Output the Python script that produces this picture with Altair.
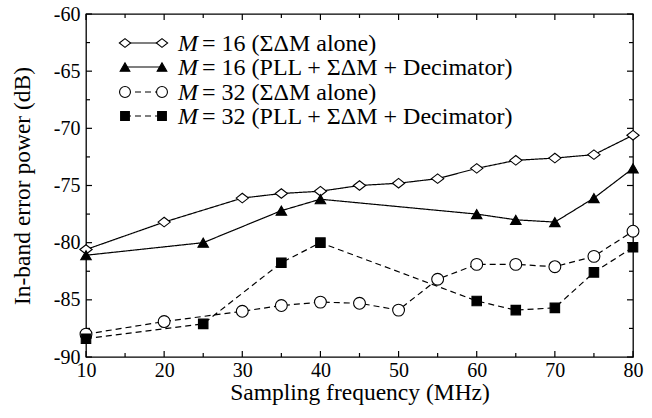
import altair as alt
import pandas as pd

# ---------------- data ----------------
freq_a = [10, 20, 30, 35, 40, 45, 50, 55, 60, 65, 70, 75, 80]
m16_alone = [-80.6, -78.2, -76.1, -75.7, -75.5, -75.0, -74.8, -74.4, -73.5, -72.8, -72.6, -72.3, -70.6]
m32_alone = [-88.0, -86.9, -86.0, -85.5, -85.2, -85.3, -85.9, -83.2, -81.9, -81.9, -82.1, -81.2, -79.0]

freq_b = [10, 25, 35, 40, 60, 65, 70, 75, 80]
m16_pll = [-81.1, -80.0, -77.2, -76.2, -77.5, -78.0, -78.2, -76.1, -73.5]
m32_pll = [-88.4, -87.1, -81.75, -80.0, -85.1, -85.9, -85.7, -82.6, -80.4]

x_major = [10, 20, 30, 40, 50, 60, 70, 80]
x_minor = [15, 25, 35, 45, 55, 65, 75]
y_major = [-90, -85, -80, -75, -70, -65, -60]
y_minor = [-87.5, -82.5, -77.5, -72.5, -67.5, -62.5]

legend_m = ["16", "16", "32", "32"]
legend_rest = ["(ΣΔM alone)", "(PLL + ΣΔM + Decimator)", "(ΣΔM alone)", "(PLL + ΣΔM + Decimator)"]

# ---------------- layout ----------------
W, H = 547, 343
FONT = "'Liberation Serif', 'Times New Roman', 'DejaVu Serif', serif"
DIAMOND = "M-1,0L0,-0.78L1,0L0,0.78Z"
LEG_FS = 24

xscale = alt.Scale(domain=[10, 80], nice=False, zero=False)
yscale = alt.Scale(domain=[-90, -60], nice=False, zero=False)

styles = [
    dict(shape=DIAMOND, filled=False, size=150, dash=[1, 0]),
    dict(shape="triangle-up", filled=True, size=110, dash=[1, 0]),
    dict(shape="circle", filled=False, size=140, dash=[6, 4]),
    dict(shape="square", filled=True, size=90, dash=[6, 4]),
]
series = [
    (freq_a, m16_alone),
    (freq_b, m16_pll),
    (freq_a, m32_alone),
    (freq_b, m32_pll),
]

layers = []
first = True
for (fx, fy), st in zip(series, styles):
    df = pd.DataFrame({"freq": fx, "power": fy})
    if first:
        xenc = alt.X("freq:Q", scale=xscale, axis=alt.Axis(
            values=x_major, title="Sampling frequency (MHz)", tickSize=0, domain=False,
            grid=False, labelPadding=3, titlePadding=0, labelFlush=False))
        yenc = alt.Y("power:Q", scale=yscale, axis=alt.Axis(
            values=y_major, title="In-band error power (dB)", tickSize=0, domain=False,
            grid=False, labelPadding=6, titlePadding=19, labelFlush=False,
            labelExpr="toString(datum.value)"))
        first = False
    else:
        xenc = alt.X("freq:Q", scale=xscale)
        yenc = alt.Y("power:Q", scale=yscale)
    base = alt.Chart(df).encode(x=xenc, y=yenc)
    line = base.mark_line(color="black", strokeWidth=1.2, strokeDash=st["dash"])
    pts = base.mark_point(shape=st["shape"], filled=st["filled"], size=st["size"],
                          color="black", fill="black" if st["filled"] else "white",
                          stroke="black", strokeWidth=1.1, opacity=1)
    layers += [line, pts]


def tick_layer(vals, axis, length, side):
    df = pd.DataFrame({axis: vals})
    ch = alt.Chart(df).mark_rule(color="black", strokeWidth=1.2)
    if axis == "freq":
        enc = dict(x=alt.X("freq:Q", scale=xscale))
        if side == "bottom":
            enc.update(y=alt.value(H), y2=alt.value(H - length))
        else:
            enc.update(y=alt.value(0), y2=alt.value(length))
    else:
        enc = dict(y=alt.Y("power:Q", scale=yscale))
        if side == "left":
            enc.update(x=alt.value(0), x2=alt.value(length))
        else:
            enc.update(x=alt.value(W), x2=alt.value(W - length))
    return ch.encode(**enc)


for side in ["bottom", "top"]:
    layers.append(tick_layer(x_major, "freq", 6, side))
    layers.append(tick_layer(x_minor, "freq", 4, side))
for side in ["left", "right"]:
    layers.append(tick_layer(y_major, "power", 6, side))
    layers.append(tick_layer(y_minor, "power", 4, side))

# ---------------- legend (manual) ----------------
row_y = [29, 53, 78, 102]
x_l, x_r = 39, 76
one = pd.DataFrame({"a": [0]})
for i, st in enumerate(styles):
    y0 = row_y[i]
    layers.append(alt.Chart(one).mark_rule(color="black", strokeWidth=1.2, strokeDash=st["dash"]).encode(
        x=alt.value(x_l), x2=alt.value(x_r), y=alt.value(y0)))
    for xx in (x_l, x_r):
        layers.append(alt.Chart(one).mark_point(
            shape=st["shape"], filled=st["filled"], size=st["size"] * 0.85, color="black",
            fill="black" if st["filled"] else "white", stroke="black", strokeWidth=1.1, opacity=1
        ).encode(x=alt.value(xx), y=alt.value(y0)))
    layers.append(alt.Chart(one).mark_text(
        text="M", font=FONT, fontSize=LEG_FS, fontStyle="italic", align="left", baseline="middle",
        color="black").encode(x=alt.value(92), y=alt.value(y0 + 1)))
    layers.append(alt.Chart(one).mark_text(
        text=f"= {legend_m[i]} {legend_rest[i]}", font=FONT, fontSize=LEG_FS, align="left",
        baseline="middle", color="black").encode(x=alt.value(116), y=alt.value(y0 + 1)))

chart = alt.layer(*layers).properties(
    width=W, height=H,
    autosize=alt.AutoSizeParams(type="none"),
    padding={"left": 86, "top": 14, "right": 19, "bottom": 61},
    background="white",
).configure_view(stroke="black", strokeWidth=1.3).configure_axis(
    labelFont=FONT, titleFont=FONT, labelFontSize=20, titleFontSize=23.5,
    labelColor="black", titleColor="black", titleFontWeight="normal",
)

chart.save("out.html", embed_options={"renderer": "svg", "actions": False})
